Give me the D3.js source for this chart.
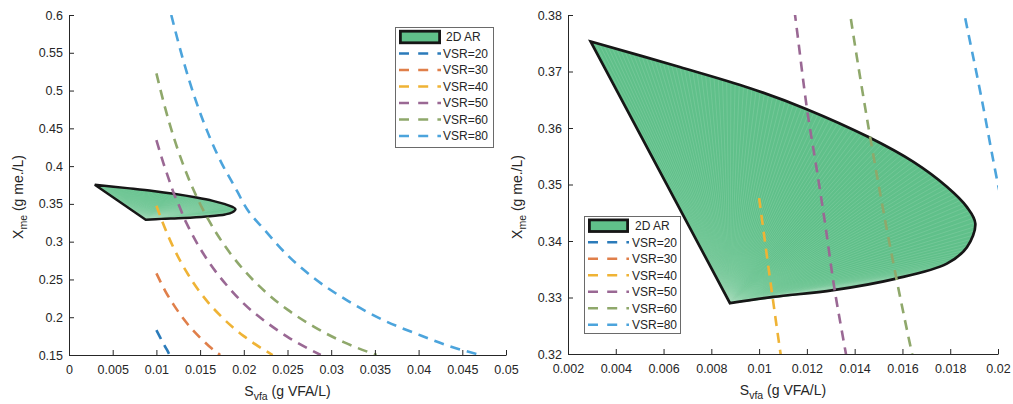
<!DOCTYPE html>
<html>
<head>
<meta charset="utf-8">
<script src="https://cdn.jsdelivr.net/npm/d3@7"></script>
<style>
  html, body { margin: 0; padding: 0; background: #ffffff; }
  svg { display: block; font-family: "Liberation Sans", Arial, Helvetica, sans-serif; }
</style>
</head>
<body>
<svg id="chart" width="1013" height="404"></svg>
<script>
// ---- 2D attainable region boundary (S_vfa in g VFA/L, X_me in g me./L) ----
// traced from the upper tip, round the nose, back to the lower corner
const arS = [0.00295, 0.00668, 0.00962, 0.01199, 0.01458, 0.01646, 0.01786, 0.01870, 0.01905,
             0.01870, 0.01786, 0.01569, 0.01311, 0.01059, 0.00878];
const arX = [0.3753, 0.3708, 0.36705, 0.36334, 0.3584, 0.3540, 0.3496, 0.3460, 0.3431,
             0.3389, 0.3360, 0.3333, 0.3313, 0.3301, 0.3290];

// ---- constant-VSR curves ----
const vsr20S = [0.0100, 0.0104, 0.0108, 0.0112, 0.0115];
const vsr20X = [0.183, 0.174, 0.165, 0.157, 0.150];

const vsr30S = [0.0100, 0.0110, 0.0120, 0.0135, 0.0150, 0.0160, 0.0173];
const vsr30X = [0.258, 0.235, 0.216, 0.192, 0.173, 0.162, 0.150];

const vsr40S = [0.0100, 0.0105, 0.0109, 0.0120, 0.0135, 0.0150, 0.0175, 0.0200, 0.0233];
const vsr40X = [0.3476, 0.332, 0.320, 0.291, 0.259, 0.233, 0.200, 0.175, 0.150];

const vsr50S = [0.0100, 0.0108, 0.0116, 0.0120, 0.0124, 0.0128, 0.0131, 0.0135, 0.0145,
                0.0160, 0.0180, 0.0200, 0.0225, 0.0250, 0.0288];
const vsr50X = [0.4345, 0.404, 0.3768, 0.3635, 0.3530, 0.3420, 0.3330, 0.3232, 0.301,
                0.273, 0.243, 0.218, 0.194, 0.174, 0.150];

const vsr60S = [0.0100, 0.0110, 0.0120, 0.0130, 0.0139, 0.0146, 0.0153, 0.0160, 0.0170,
                0.0185, 0.0200, 0.0225, 0.0250, 0.0280, 0.0315, 0.0352];
const vsr60X = [0.5228, 0.477, 0.4375, 0.404, 0.3777, 0.3596, 0.3431, 0.3281, 0.3088,
                0.2838, 0.2625, 0.2333, 0.210, 0.1875, 0.1667, 0.150];

const vsr80S = [0.0117, 0.0130, 0.0145, 0.0160, 0.0175, 0.0186, 0.0193, 0.0200, 0.0225,
                0.0250, 0.0280, 0.0320, 0.0360, 0.0400, 0.0440, 0.0471];
const vsr80X = [0.600, 0.543, 0.487, 0.441, 0.403, 0.380, 0.3655, 0.350, 0.314,
                0.282, 0.252, 0.221, 0.196, 0.177, 0.160, 0.150];

const arName = "2D AR";
const vsrNames = ["VSR=20", "VSR=30", "VSR=40", "VSR=50", "VSR=60", "VSR=80"];

// ---- axis ticks ----
const leftXTicks = [0, 0.005, 0.01, 0.015, 0.02, 0.025, 0.03, 0.035, 0.04, 0.045, 0.05];
const leftXLabels = ["0", "0.005", "0.01", "0.015", "0.02", "0.025", "0.03", "0.035", "0.04", "0.045", "0.05"];
const leftYTicks = [0.15, 0.2, 0.25, 0.3, 0.35, 0.4, 0.45, 0.5, 0.55, 0.6];
const leftYLabels = ["0.15", "0.2", "0.25", "0.3", "0.35", "0.4", "0.45", "0.5", "0.55", "0.6"];

const rightXTicks = [0.002, 0.004, 0.006, 0.008, 0.01, 0.012, 0.014, 0.016, 0.018, 0.02];
const rightXLabels = ["0.002", "0.004", "0.006", "0.008", "0.01", "0.012", "0.014", "0.016", "0.018", "0.02"];
const rightYTicks = [0.32, 0.33, 0.34, 0.35, 0.36, 0.37, 0.38];
const rightYLabels = ["0.32", "0.33", "0.34", "0.35", "0.36", "0.37", "0.38"];

// ---- styling ----
const vsrColors = ["#2b7bba", "#e07f4a", "#efb335", "#9a6894", "#8fa86b", "#4ca4dc"];
const arFill = "#60c08a";
const axisColor = "#262626";

const vsrSeries = [
  { name: vsrNames[0], s: vsr20S, x: vsr20X, color: vsrColors[0] },
  { name: vsrNames[1], s: vsr30S, x: vsr30X, color: vsrColors[1] },
  { name: vsrNames[2], s: vsr40S, x: vsr40X, color: vsrColors[2] },
  { name: vsrNames[3], s: vsr50S, x: vsr50X, color: vsrColors[3] },
  { name: vsrNames[4], s: vsr60S, x: vsr60X, color: vsrColors[4] },
  { name: vsrNames[5], s: vsr80S, x: vsr80X, color: vsrColors[5] }
];
const arPoints = arS.map((s, i) => [s, arX[i]]);

const panels = [
  {
    id: "left", left: 69, right: 506, top: 15, bottom: 355,
    xDomain: [0, 0.05], yDomain: [0.15, 0.6],
    xTicks: leftXTicks, xLabels: leftXLabels, yTicks: leftYTicks, yLabels: leftYLabels,
    borderWidth: 2.4,
    legend: { x: 395, y: 27, w: 98, h: 120, lineX: 399, lineLen: 42, textX: 443, rowY: 37, rowStep: 16.5 }
  },
  {
    id: "right", left: 568, right: 998, top: 15, bottom: 354,
    xDomain: [0.002, 0.02], yDomain: [0.32, 0.38],
    xTicks: rightXTicks, xLabels: rightXLabels, yTicks: rightYTicks, yLabels: rightYLabels,
    borderWidth: 2.7,
    legend: { x: 584, y: 216, w: 96, h: 117, lineX: 588, lineLen: 41, textX: 632, rowY: 225.7, rowStep: 16.5 }
  }
];

const svg = d3.select("#chart");
const defs = svg.append("defs");

panels.forEach(p => {
  const xs = d3.scaleLinear().domain(p.xDomain).range([p.left, p.right]);
  const ys = d3.scaleLinear().domain(p.yDomain).range([p.bottom, p.top]);
  const g = svg.append("g").attr("class", "panel-" + p.id);

  defs.append("clipPath").attr("id", "clip-" + p.id)
    .append("rect")
    .attr("x", p.left).attr("y", p.top)
    .attr("width", p.right - p.left).attr("height", p.bottom - p.top);

  const plot = g.append("g").attr("clip-path", `url(#clip-${p.id})`);

  // attainable region: curved outer boundary, closed by a straight edge
  const boundary = d3.line()
    .x(d => xs(d[0])).y(d => ys(d[1]))
    .curve(d3.curveCatmullRom.alpha(0.5));
  const boundaryPath = boundary(arPoints);

  plot.append("path")
    .attr("d", boundaryPath + "Z")
    .attr("fill", arFill)
    .attr("stroke", "none");

  // faint triangulation edges fanning out from the lower corner
  const probe = plot.append("path").attr("d", boundaryPath).attr("fill", "none").attr("stroke", "none");
  const node = probe.node();
  const total = node.getTotalLength();
  const corner = [xs(arS[arS.length - 1]), ys(arX[arX.length - 1])];
  const nFan = 160;
  const fan = plot.append("g")
    .attr("stroke", "#a3dcbb").attr("stroke-width", 0.5).attr("stroke-opacity", 0.55);
  for (let i = 0; i <= nFan; i++) {
    const pt = node.getPointAtLength(total * i / nFan);
    fan.append("line")
      .attr("x1", corner[0]).attr("y1", corner[1])
      .attr("x2", pt.x).attr("y2", pt.y);
  }
  probe.remove();

  plot.append("path")
    .attr("d", boundaryPath + "Z")
    .attr("fill", "none")
    .attr("stroke", "#161616")
    .attr("stroke-width", p.borderWidth)
    .attr("stroke-linejoin", "miter");

  // constant-VSR curves
  const curve = d3.line()
    .x(d => xs(d[0])).y(d => ys(d[1]))
    .curve(d3.curveMonotoneX);
  vsrSeries.forEach(sr => {
    plot.append("path")
      .attr("d", curve(sr.s.map((s, i) => [s, sr.x[i]])))
      .attr("fill", "none")
      .attr("stroke", sr.color)
      .attr("stroke-width", 2.6)
      .attr("stroke-dasharray", "10,7");
  });

  // axes (ticks point inward, no box)
  const xAxis = d3.axisBottom(xs)
    .tickValues(p.xTicks)
    .tickFormat((d, i) => p.xLabels[i])
    .tickSizeInner(-5).tickSizeOuter(0).tickPadding(10);
  const yAxis = d3.axisLeft(ys)
    .tickValues(p.yTicks)
    .tickFormat((d, i) => p.yLabels[i])
    .tickSizeInner(-5).tickSizeOuter(0).tickPadding(6);

  const gx = g.append("g").attr("transform", `translate(0,${p.bottom})`).call(xAxis);
  const gy = g.append("g").attr("transform", `translate(${p.left},0)`).call(yAxis);
  [gx, gy].forEach(a => {
    a.attr("font-family", null).attr("font-size", null);
    a.select(".domain").attr("stroke", axisColor);
    a.selectAll(".tick line").attr("stroke", axisColor);
    a.selectAll(".tick text").attr("fill", axisColor).style("font-size", "12.5px");
  });

  // axis titles
  const cx = (p.left + p.right) / 2;
  const xt = g.append("text")
    .attr("x", cx).attr("y", p.bottom + 41)
    .attr("text-anchor", "middle").attr("fill", axisColor).style("font-size", "14px");
  xt.append("tspan").text("S");
  xt.append("tspan").attr("dy", 4).style("font-size", "10.5px").text("vfa");
  xt.append("tspan").attr("dy", -4).text(" (g VFA/L)");

  const yt = g.append("text")
    .attr("transform", `translate(${p.left - 46.5},197) rotate(-90)`)
    .attr("text-anchor", "middle").attr("fill", axisColor).style("font-size", "14px");
  yt.append("tspan").text("X");
  yt.append("tspan").attr("dy", 4).style("font-size", "10.5px").text("me");
  yt.append("tspan").attr("dy", -4).text(" (g me./L)");

  // legend
  const L = p.legend;
  const sw = 2.8;
  const lg = g.append("g");
  lg.append("rect")
    .attr("x", L.x + 0.5).attr("y", L.y + 0.5).attr("width", L.w).attr("height", L.h)
    .attr("fill", "#ffffff").attr("stroke", "#6a6a6a").attr("stroke-width", 1);
  lg.append("rect")
    .attr("x", L.lineX + sw / 2).attr("y", L.rowY - 7.2 + sw / 2)
    .attr("width", L.lineLen - sw).attr("height", 14.4 - sw)
    .attr("fill", arFill).attr("stroke", "#161616").attr("stroke-width", sw);
  lg.append("text")
    .attr("x", L.textX + 3).attr("y", L.rowY).attr("dy", "0.36em")
    .attr("fill", axisColor).style("font-size", "12px").text(arName);
  vsrSeries.forEach((sr, i) => {
    const y = L.rowY + L.rowStep * (i + 1);
    lg.append("line")
      .attr("x1", L.lineX).attr("x2", L.lineX + L.lineLen)
      .attr("y1", y).attr("y2", y)
      .attr("stroke", sr.color).attr("stroke-width", 2.6)
      .attr("stroke-dasharray", "10,9.2");
    lg.append("text")
      .attr("x", L.textX).attr("y", y).attr("dy", "0.36em")
      .attr("fill", axisColor).style("font-size", "12px").text(sr.name);
  });
});
</script>
</body>
</html>
